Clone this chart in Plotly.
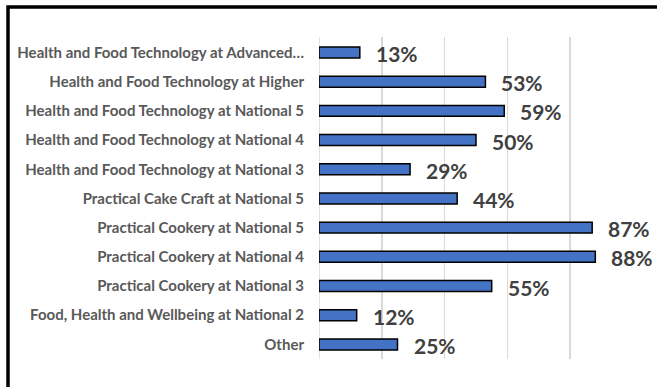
import plotly.graph_objects as go

categories = [
    "Health and Food Technology at Advanced…",
    "Health and Food Technology at Higher",
    "Health and Food Technology at National 5",
    "Health and Food Technology at National 4",
    "Health and Food Technology at National 3",
    "Practical Cake Craft at National 5",
    "Practical Cookery at National 5",
    "Practical Cookery at National 4",
    "Practical Cookery at National 3",
    "Food, Health and Wellbeing at National 2",
    "Other",
]
values = [0.13, 0.53, 0.59, 0.50, 0.29, 0.44, 0.87, 0.88, 0.55, 0.12, 0.25]
value_labels = ["13%", "53%", "59%", "50%", "29%", "44%", "87%", "88%", "55%", "12%", "25%"]

W, H = 657, 387
ML, MT = 319, 37
PW, PH = 314, 322
MR = W - ML - PW
MB = H - MT - PH

fig = go.Figure()
fig.add_trace(go.Bar(
    x=values, y=categories, orientation="h",
    marker=dict(color="#4472C4", line=dict(color="#000000", width=1.5)),
    hoverinfo="skip",
))

annotations = []
for c, v, t in zip(categories, values, value_labels):
    annotations.append(dict(
        x=v, y=c, xref="x", yref="y", text=t, showarrow=False,
        xanchor="left", yanchor="middle", xshift=14, yshift=-1,
        font=dict(family="Lato", size=21, color="#404040", weight="bold"),
    ))

def px_x(p):
    return (p - ML) / PW

def px_y(p):
    return (H - MB - p) / PH

fig.update_layout(
    width=W, height=H,
    margin=dict(l=ML, r=MR, t=MT, b=MB, pad=0, autoexpand=False),
    paper_bgcolor="white", plot_bgcolor="white",
    bargap=0.625,
    showlegend=False,
    annotations=annotations,
    shapes=[dict(
        type="rect", xref="paper", yref="paper",
        x0=px_x(8), x1=px_x(720), y0=px_y(440), y1=px_y(7),
        line=dict(color="#000000", width=3.5), fillcolor="rgba(0,0,0,0)",
        layer="above",
    )],
    xaxis=dict(
        range=[0, 1], dtick=0.2, showgrid=True, gridcolor="#D9D9D9", gridwidth=1.5,
        zeroline=False, showticklabels=False, showline=False, fixedrange=True,
        automargin=False,
    ),
    yaxis=dict(
        categoryorder="array", categoryarray=categories, autorange="reversed",
        showgrid=False, zeroline=False, showline=False, ticks="",
        ticklabelstandoff=14, automargin=False,
        tickfont=dict(family="Lato", size=15, color="#595959", weight="bold"),
        fixedrange=True,
    ),
)
fig.add_vline(x=0, line=dict(color="#D9D9D9", width=1.5), layer="below")

fig.write_html(
    "out.html",
    config={"displayModeBar": False, "staticPlot": True},
    post_script="document.documentElement.style.margin='0';document.body.style.margin='0';document.body.style.overflow='hidden';",
)
